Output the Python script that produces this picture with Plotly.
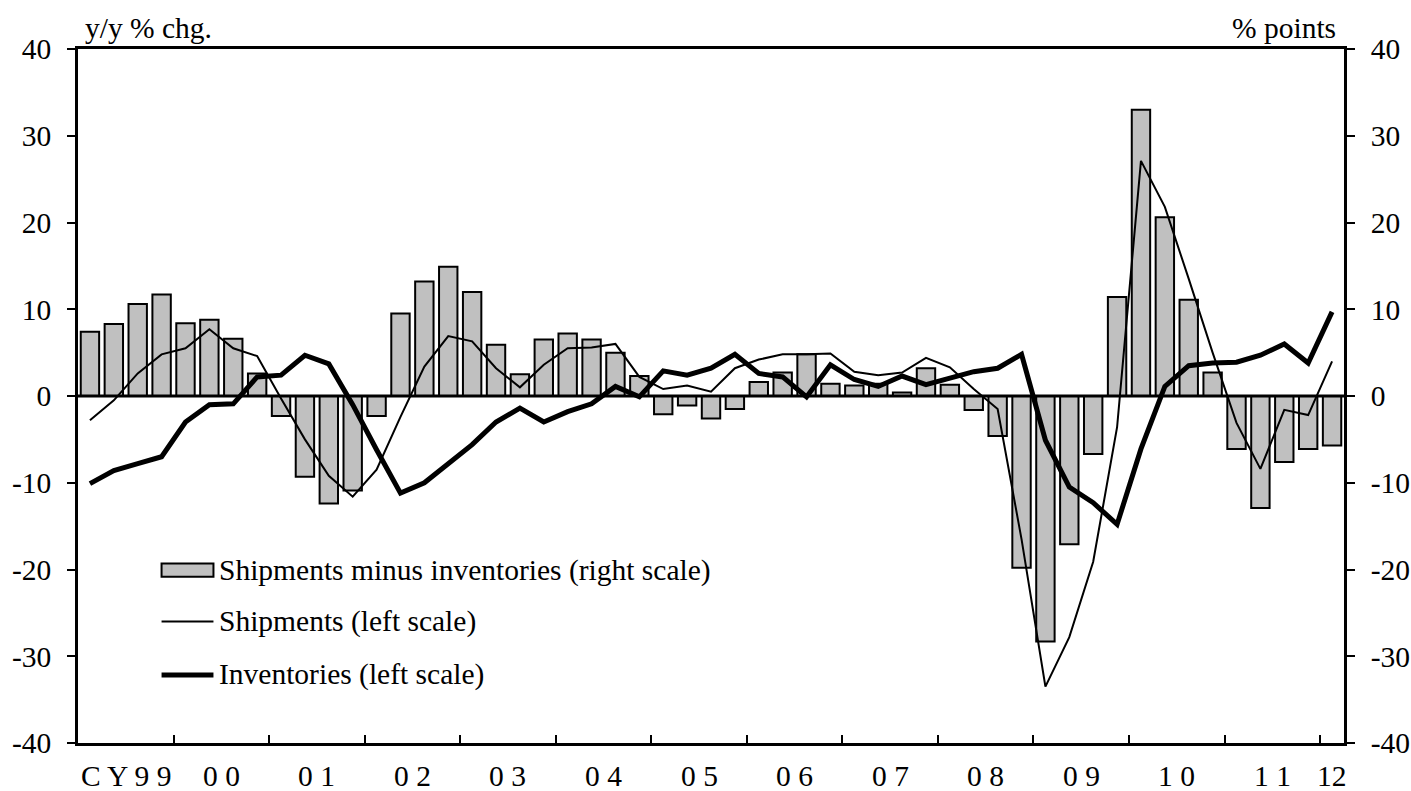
import plotly.graph_objects as go

# quarterly, CY1999 Q1 .. 2012 Q1
QUARTERS = list(range(53))

SHIP_MINUS_INV = [
    7.4, 8.3, 10.6, 11.7, 8.4, 8.8, 6.6, 2.6,
    -2.3, -9.3, -12.4, -10.9, -2.3, 9.5, 13.2, 14.9,
    12.0, 5.9, 2.5, 6.5, 7.2, 6.5, 5.0, 2.3,
    -2.1, -1.1, -2.6, -1.5, 1.6, 2.7, 4.8, 1.4,
    1.2, 1.4, 0.4, 3.2, 1.3, -1.6, -4.6, -19.8,
    -28.3, -17.1, -6.7, 11.4, 33.0, 20.6, 11.1, 2.7,
    -6.1, -12.9, -7.6, -6.1, -5.7,
]
SHIPMENTS = [
    -2.8, -0.5, 2.6, 4.8, 5.5, 7.7, 5.5, 4.6,
    -0.3, -5.0, -9.2, -11.6, -8.5, -2.4, 3.4, 6.9,
    6.3, 3.2, 1.0, 3.6, 5.5, 5.6, 6.0, 2.2,
    0.8, 1.2, 0.5, 3.2, 4.2, 4.8, 4.8, 4.9,
    2.8, 2.4, 2.7, 4.4, 3.3, 0.8, -1.5, -16.5,
    -33.5, -27.8, -19.1, -3.6, 27.1, 21.8, 13.5, 5.0,
    -3.1, -8.4, -1.6, -2.2, 4.0,
]
INVENTORIES = [
    -10.1, -8.6, -7.8, -7.0, -3.0, -1.0, -0.9, 2.2,
    2.4, 4.7, 3.7, -1.0, -6.2, -11.2, -10.0, -7.8,
    -5.6, -3.0, -1.4, -3.0, -1.8, -0.9, 1.1, -0.1,
    2.9, 2.4, 3.2, 4.8, 2.6, 2.2, -0.1, 3.6,
    1.9, 1.1, 2.3, 1.3, 2.0, 2.8, 3.2, 4.8,
    -5.1, -10.5, -12.3, -14.8, -6.1, 1.1, 3.5, 3.8,
    3.9, 4.7, 6.0, 3.8, 9.7,
]

YEAR_LABELS = ["C Y 9 9", "0 0", "0 1", "0 2", "0 3", "0 4", "0 5",
               "0 6", "0 7", "0 8", "0 9", "1 0", "1 1", "12"]
Y_TICKS = [-40, -30, -20, -10, 0, 10, 20, 30, 40]
Y_TICK_TEXT = [str(v) for v in Y_TICKS]
LEGEND_TEXT = ["Shipments minus inventories (right scale)",
               "Shipments (left scale)", "Inventories (left scale)"]

FONT = "Liberation Serif, Times New Roman, serif"
FS = 29.5
THIN, THICK = 2, 5

fig = go.Figure()
fig.add_bar(x=QUARTERS, y=SHIP_MINUS_INV, marker=dict(color="#c0c0c0",
            line=dict(color="black", width=2)), showlegend=False)
fig.add_scatter(x=QUARTERS, y=SHIPMENTS, mode="lines",
                line=dict(color="black", width=THIN), showlegend=False)
fig.add_scatter(x=QUARTERS, y=INVENTORIES, mode="lines",
                line=dict(color="black", width=THICK), showlegend=False)
# keep the right-hand scale alive
fig.add_scatter(x=[QUARTERS[0]], y=[0], yaxis="y2", mode="markers",
                marker=dict(opacity=0), hoverinfo="skip", showlegend=False)

# year boundaries for tick marks, labels centred on each year
n = len(QUARTERS)
year_starts = [q - 0.5 for q in QUARTERS if q % 4 == 0 and q > 0]
label_pos = [min(4 * i + 1.5, n - 1) for i in range(len(YEAR_LABELS))]
for xpos, lab in zip(label_pos, YEAR_LABELS):
    fig.add_annotation(x=xpos, y=0, xref="x", yref="paper", yshift=-33,
                       text=lab, showarrow=False, yanchor="middle",
                       font=dict(family=FONT, size=FS, color="black"))

# zero line over the bars
fig.add_shape(type="line", xref="paper", yref="y", x0=0, x1=1, y0=0, y1=0,
              line=dict(color="black", width=3), layer="above")

# legend drawn by hand to mimic the original
leg_x0, leg_x1, txt_x = 0.066, 0.107, 0.110
rows = [0.249, 0.175, 0.098]
fig.add_shape(type="rect", xref="paper", yref="paper",
              x0=leg_x0, x1=leg_x1, y0=rows[0] - 0.0095, y1=rows[0] + 0.0095,
              fillcolor="#c0c0c0", line=dict(color="black", width=2))
fig.add_shape(type="line", xref="paper", yref="paper", x0=leg_x0, x1=leg_x1,
              y0=rows[1], y1=rows[1], line=dict(color="black", width=THIN))
fig.add_shape(type="line", xref="paper", yref="paper", x0=leg_x0, x1=leg_x1,
              y0=rows[2], y1=rows[2], line=dict(color="black", width=THICK))
for yy, txt in zip(rows, LEGEND_TEXT):
    fig.add_annotation(x=txt_x, y=yy, xref="paper", yref="paper", text=txt,
                       xanchor="left", yanchor="middle", showarrow=False,
                       font=dict(family=FONT, size=FS, color="black"))

fig.add_annotation(x=0.004, y=1.0, xref="paper", yref="paper", yshift=3,
                   text="y/y % chg.", xanchor="left", yanchor="bottom",
                   showarrow=False, font=dict(family=FONT, size=FS, color="black"))
fig.add_annotation(x=0.995, y=1.0, xref="paper", yref="paper", yshift=3,
                   text="% points", xanchor="right", yanchor="bottom",
                   showarrow=False, font=dict(family=FONT, size=FS, color="black"))

yax = dict(range=[-40, 40], tickvals=Y_TICKS, ticktext=Y_TICK_TEXT,
           ticks="outside", ticklen=8, tickwidth=2, tickcolor="black",
           showline=True, linecolor="black", linewidth=2.5,
           showgrid=False, zeroline=False, ticklabelstandoff=10,
           tickfont=dict(family=FONT, size=FS, color="black"))

fig.update_layout(
    width=1411, height=791,
    margin=dict(l=78, r=67, t=49, b=48, autoexpand=False),
    plot_bgcolor="white", paper_bgcolor="white",
    bargap=0.23, showlegend=False,
    xaxis=dict(range=[-0.5, n - 0.5], tickvals=year_starts,
               showticklabels=False, ticks="inside", ticklen=8, tickwidth=2,
               tickcolor="black", showline=True, mirror=True,
               linecolor="black", linewidth=2.5, showgrid=False, zeroline=False),
    yaxis=dict(**yax, side="left"),
    yaxis2=dict(**yax, side="right", overlaying="y"),
)

# drop the default page margin so the figure fills the window exactly
fig.write_html("out.html", config={"displayModeBar": False},
               post_script="document.body.style.margin='0';")
